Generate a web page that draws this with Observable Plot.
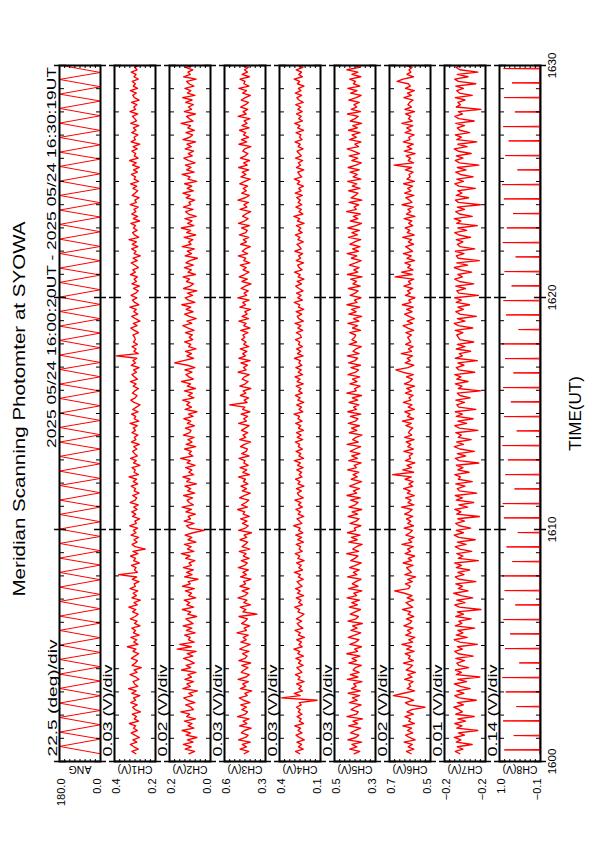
<!DOCTYPE html>
<html>
<head>
<meta charset="utf-8">
<script src="https://cdn.jsdelivr.net/npm/d3@7"></script>
<script src="https://cdn.jsdelivr.net/npm/@observablehq/plot@0.6"></script>
<style>
html,body{margin:0;padding:0;background:#fff;width:595px;height:842px;overflow:hidden;}
#land{position:absolute;left:0;top:0;width:842px;height:595px;transform-origin:0 0;transform:translate(0px,842px) rotate(-90deg);font-family:"Liberation Sans",Arial,sans-serif;background:#fff;}
#land svg{position:absolute;left:0;}
</style>
</head>
<body>
<div id="land"></div>
<script>
// ---------------- data ----------------
const titleText = "Meridian Scanning Photomter at SYOWA";
const headerText = "2025 05/24 16:00:20UT - 2025 05/24 16:30:19UT";
const channelNames = ["ANG","CH1(V)","CH2(V)","CH3(V)","CH4(V)","CH5(V)","CH6(V)","CH7(V)","CH8(V)"];
const divLabels = ["22.5 (deg)/div","0.03 (V)/div","0.02 (V)/div","0.03 (V)/div","0.03 (V)/div","0.03 (V)/div","0.02 (V)/div","0.01 (V)/div","0.14 (V)/div"];
const yDomains = [[0,180],[0.18,0.42],[0.02,0.18],[0.33,0.57],[0.13,0.37],[0.28,0.52],[0.52,0.68],[-0.24,-0.16],[-0.11,1.01]];
const timeTickLabels = ["1600","1610","1620","1630"];
const xAxisLabel = "TIME(UT)";

// scan angle turning points (seconds after 16:00:20, degrees)
const angT = [0,19,38,56,75,94,112,131,150,169,188,206,225,244,262,281,300,319,338,356,375,394,412,431,450,469,488,506,525,544,562,581,600,619,638,656,675,694,712,731,750,769,788,806,825,844,862,881,900,919,938,956,975,994,1012,1031,1050,1069,1088,1106,1125,1144,1162,1181,1200,1219,1238,1256,1275,1294,1312,1331,1350,1369,1388,1406,1425,1444,1462,1481,1500,1519,1538,1556,1575,1594,1612,1631,1650,1669,1688,1706,1725,1744,1762,1781,1799];
const angV = [0,180,0,180,0,180,0,180,0,180,0,180,0,180,0,180,0,180,0,180,0,180,0,180,0,180,0,180,0,180,0,180,0,180,0,180,0,180,0,180,0,180,0,180,0,180,0,180,0,180,0,180,0,180,0,180,0,180,0,180,0,180,0,180,0,180,0,180,0,180,0,180,0,180,0,180,0,180,0,180,0,180,0,180,0,180,0,180,0,180,0,180,0,180,0,180,0];

// channel samples (mV), evenly spaced from 16:00:20 to 16:30:19
const ch1_mV = [295,318,281,306,327,289,312,274,301,322,286,309,296,333,279,304,291,316,268,300,
314,287,325,296,308,272,319,293,338,284,302,311,277,296,329,288,305,263,317,298,
286,321,301,279,312,294,345,283,307,290,324,276,309,297,318,271,303,288,327,299,
282,314,295,336,287,306,269,318,292,311,284,329,298,305,277,316,290,395,286,303,
294,321,275,308,297,326,283,312,240,299,317,288,306,279,323,294,309,285,331,292,
301,273,315,296,319,287,307,281,328,299,290,314,276,305,297,322,284,310,291,335,
280,306,298,317,271,309,293,326,286,302,314,289,307,275,321,295,304,283,318,297,
310,287,329,278,305,296,320,282,313,292,270,306,324,299,288,315,301,279,311,294,
327,285,303,318,291,308,276,322,297,312,289,410,281,306,294,317,286,309,298,302,
312,279,304,325,288,310,271,297,319,284,307,293,330,277,302,315,289,323,296,281,
309,274,318,291,305,286,327,298,313,280,300,322,287,311,269,306,294,320,283,316,
292,335,278,303,314,288,309,297,324,273,310,285,319,295,306,281,328,292,301,276,
317,299,284,312,290,326,279,305,297,321,286,308,275,314,293,331,282,304,296,318,
287,311,272,323,298,306,283,319,294,309,278,325,291,302,315,284,329,297,307,289,
320,276,303,313,292,327,285,310,298,316,281,306,294,322,288,301,274,318,296,305];
const ch2_mV = [104,82,119,95,126,88,110,73,115,98,131,85,107,92,122,79,113,101,136,87,
96,117,81,109,124,90,105,71,128,99,112,86,120,94,108,77,133,97,115,83,
102,125,89,111,76,150,95,140,84,106,99,121,80,114,93,127,88,103,116,74,
109,97,130,86,112,101,123,78,105,94,118,83,129,99,107,69,121,92,113,87,
126,95,104,81,117,100,134,85,110,96,122,77,108,93,119,88,45,102,114,84,
123,98,107,79,116,94,131,87,103,111,90,125,82,109,97,120,75,113,100,128,
86,105,93,117,80,112,99,137,89,104,95,121,78,115,92,108,84,126,101,96,
118,83,110,97,124,88,106,73,119,94,113,101,129,85,107,91,122,79,111,98,
133,87,104,116,92,120,81,109,160,125,86,112,94,118,77,106,97,121,89,103,
91,118,84,107,128,93,112,76,103,121,88,115,97,132,81,106,119,90,110,73,
125,99,86,114,102,127,79,108,95,122,87,116,101,71,119,94,111,83,130,96,
105,89,123,78,113,98,134,85,109,92,120,76,106,117,88,126,97,104,82,115,
99,128,87,111,93,121,74,108,100,131,84,113,96,118,80,105,124,91,107,86,
119,95,112,78,127,101,90,116,83,109,98,135,88,103,114,79,122,94,106,87,
117,92,129,81,110,97,120,85,104,113,76,125,99,108,89,118,82,111,95,102];
const ch3_mV = [455,428,479,441,466,419,488,447,432,471,453,414,482,439,461,426,494,448,435,468,
442,475,421,459,483,437,451,411,477,446,463,430,490,444,425,472,456,433,469,417,
486,449,438,464,427,481,452,420,474,443,460,431,497,441,455,423,470,448,436,485,
380,462,445,478,418,457,439,491,450,433,467,424,480,446,458,415,476,442,463,430,
489,451,437,472,426,460,444,484,422,468,449,434,479,440,456,412,487,447,431,465,
438,476,425,461,452,493,436,470,445,428,482,455,419,466,441,474,433,459,447,488,
424,463,440,479,431,457,450,485,427,469,443,436,476,454,418,481,446,462,434,471,
449,426,487,442,458,435,473,421,464,451,540,438,455,429,477,445,461,416,480,448,
432,467,453,425,490,443,459,436,474,420,486,447,463,439,478,428,457,444,469,451,
462,433,475,421,458,444,486,429,467,438,451,418,480,447,463,426,492,440,455,431,
473,449,415,468,436,484,452,427,461,443,478,422,457,446,489,434,466,450,419,476,
441,459,428,483,445,437,470,424,488,453,432,464,447,417,479,439,456,430,491,448,
425,469,442,460,435,481,451,420,474,444,466,428,487,437,458,423,477,449,433,463,
452,416,485,440,471,429,459,446,482,426,468,438,455,421,490,443,461,434,476,447,
430,472,448,419,464,441,486,427,457,450,479,424,467,436,453,431,482,445,460,439];
const ch4_mV = [252,276,231,259,241,268,225,254,273,238,262,247,281,229,254,243,267,238,260,249,
271,243,255,150,357,249,284,235,257,242,270,226,261,250,277,239,253,268,232,259,
245,274,230,263,251,286,237,256,241,269,224,260,248,279,233,255,266,240,271,246,
227,262,252,281,236,258,244,272,229,265,249,276,238,254,267,231,260,247,283,235,
257,243,270,226,263,251,278,237,255,246,272,230,264,241,275,233,258,249,287,239,
253,268,228,261,247,274,236,259,244,280,231,256,265,242,271,227,262,250,276,238,
255,240,269,232,264,248,283,229,257,245,273,236,260,252,278,234,266,243,271,230,
259,246,275,238,262,253,285,233,256,241,270,228,263,249,277,237,258,244,272,231,
267,250,279,235,261,243,274,239,256,248,282,232,265,245,270,236,259,251,276,242,
248,271,234,262,245,279,230,257,266,240,273,228,259,251,284,236,263,244,270,232,
256,275,241,267,227,261,249,282,238,255,264,229,272,246,258,235,280,243,253,268,
231,262,250,277,237,259,245,271,226,265,252,286,233,256,242,274,239,261,248,269,
236,278,244,257,230,266,251,283,240,254,263,228,271,247,260,234,276,242,255,267,
232,261,249,279,238,253,245,273,229,264,250,281,235,258,243,270,237,262,246,275,
231,256,268,240,277,244,259,227,265,252,284,236,257,241,272,233,263,248,270,239];
const ch5_mV = [405,372,431,389,418,361,442,395,378,426,401,367,437,384,412,356,447,392,381,423,
398,364,433,387,415,374,440,369,421,393,408,359,445,383,427,376,411,398,363,436,
390,417,371,448,385,403,362,430,396,377,439,402,366,424,388,414,357,441,394,380,
428,399,368,434,386,419,373,446,391,407,360,438,382,416,395,365,443,389,410,375,
432,397,363,425,401,383,449,379,413,392,358,436,387,421,370,444,396,404,366,429,
393,376,440,385,417,361,435,399,382,426,369,447,390,409,374,431,398,362,422,387,
411,378,443,392,405,364,437,386,419,371,428,400,367,446,381,414,395,359,433,389,
420,374,439,397,383,427,366,442,391,408,377,435,384,416,362,448,393,402,370,430,
388,415,373,441,396,380,424,368,437,399,385,445,376,412,394,363,434,390,418,402,
396,431,368,415,385,442,377,409,361,436,393,420,372,447,388,404,365,428,399,381,
439,370,412,391,425,359,444,384,407,376,433,397,364,421,389,446,380,414,371,430,
402,367,438,386,418,374,441,394,362,427,383,410,369,449,392,405,378,435,360,423,
398,382,437,371,416,390,443,366,411,387,429,375,440,395,363,419,384,434,373,408,
446,379,401,365,432,392,417,370,438,386,413,361,427,399,381,444,368,422,390,406,
375,436,393,364,425,388,442,372,409,397,431,366,418,383,447,374,403,391,428,369];
const ch6_mV = [596,614,585,607,591,623,580,602,617,589,610,594,628,583,605,598,620,587,612,593,
542,603,618,586,609,665,625,582,611,597,604,588,621,592,608,579,615,600,590,626,
587,606,599,619,584,613,594,632,590,605,581,617,596,610,588,624,601,593,614,585,
608,597,629,589,603,616,586,611,592,622,660,606,599,618,591,609,578,620,595,604,
613,588,627,594,607,582,619,598,610,587,631,593,605,584,616,600,591,623,586,609,
597,614,589,621,602,592,633,585,608,596,617,583,611,599,625,590,604,588,619,595,
668,586,628,594,612,581,618,598,603,590,624,587,609,597,615,584,621,593,606,600,
589,616,595,630,586,610,599,620,583,607,592,626,597,604,588,618,594,613,582,622,
601,591,614,587,629,655,608,585,619,599,611,590,634,594,606,588,617,597,603,609,
594,616,586,608,627,590,611,583,604,621,592,613,587,630,596,605,581,618,599,610,
589,624,597,606,585,658,592,633,588,609,598,620,582,612,595,626,590,603,617,586,
607,594,629,584,611,600,619,589,605,593,623,581,614,597,608,587,631,592,602,616,
585,621,596,609,590,625,583,612,599,604,588,618,594,662,586,607,598,615,580,622,
593,611,587,626,600,605,584,619,596,613,589,632,591,606,597,617,582,620,594,608,
601,588,624,595,610,583,618,599,607,650,627,586,612,597,604,592,621,585,614,600];
const ch7_mV = [-190,-181,-196,-185,-214,-183,-192,-179,-199,-187,-225,-184,-194,-180,-201,-186,-218,-182,-195,-188,
-178,-197,-185,-222,-189,-180,-198,-184,-210,-191,-179,-203,-186,-229,-183,-193,-181,-207,-188,-184,
-199,-182,-216,-187,-180,-195,-185,-224,-190,-179,-204,-183,-196,-186,-219,-181,-194,-188,-212,-182,
-197,-185,-231,-189,-180,-200,-184,-215,-192,-178,-206,-187,-195,-182,-221,-188,-181,-198,-186,-209,
-183,-193,-180,-226,-187,-196,-184,-213,-190,-181,-202,-185,-220,-188,-179,-197,-183,-211,-189,-182,
-199,-186,-228,-184,-192,-180,-205,-188,-217,-183,-195,-181,-223,-189,-185,-200,-182,-214,-187,-191,
-180,-208,-186,-196,-183,-227,-188,-181,-201,-185,-218,-190,-179,-197,-184,-212,-187,-193,-182,-225,
-189,-180,-203,-186,-216,-183,-195,-181,-221,-188,-184,-199,-182,-210,-190,-185,-230,-187,-194,-181,
-206,-184,-192,-180,-219,-188,-183,-198,-186,-224,-181,-195,-189,-211,-183,-200,-185,-217,-190,-187,
-184,-196,-181,-215,-187,-179,-200,-185,-222,-190,-182,-197,-186,-209,-183,-193,-180,-226,-188,-184,
-201,-182,-217,-189,-180,-195,-186,-213,-191,-179,-205,-184,-228,-187,-183,-198,-181,-219,-190,-185,
-196,-183,-211,-188,-180,-203,-186,-224,-184,-192,-179,-214,-189,-182,-199,-185,-230,-187,-181,-207,
-183,-194,-186,-220,-188,-180,-197,-184,-216,-191,-182,-202,-185,-227,-189,-181,-196,-183,-212,-187,
-179,-204,-186,-223,-184,-193,-181,-209,-190,-185,-199,-182,-218,-188,-180,-195,-187,-231,-183,-191,
-186,-200,-181,-214,-189,-184,-197,-182,-221,-187,-180,-206,-185,-225,-190,-183,-194,-186,-210,-188];

// CH8: flat level with short pulses (seconds after 16:00:20, volts)
const ch8Level = -0.09;
const ch8PulseT = [10,47,85,122,160,197,235,272,310,347,385,422,460,497,535,572,610,647,685,722,760,797,835,872,910,947,985,1022,1060,1097,1135,1172,1210,1247,1285,1322,1360,1397,1435,1472,1510,1547,1585,1622,1660,1697,1735,1772];
const ch8PulseV = [0.88,0.62,0.91,0.55,0.84,0.93,0.47,0.86,0.72,0.90,0.58,0.87,0.94,0.66,0.82,0.51,0.89,0.92,0.60,0.85,0.78,0.93,0.54,0.88,0.70,0.91,0.63,0.86,0.95,0.49,0.83,0.90,0.68,0.87,0.57,0.92,0.81,0.64,0.89,0.94,0.52,0.85,0.76,0.91,0.59,0.88,0.67,0.90];

// ---------------- build ----------------
const T0 = Date.UTC(2025,4,24,16,0,20), T1 = Date.UTC(2025,4,24,16,30,19);
const X0 = new Date(Date.UTC(2025,4,24,16,0,0)), X1 = new Date(Date.UTC(2025,4,24,16,30,0));
function samples(vals, k) { const n = vals.length; return vals.map((v, i) => ({t: new Date(T0 + i * (T1 - T0) / (n - 1)), v: v * k})); }
const angData = angT.map((s, i) => ({t: new Date(T0 + s * 1000), v: angV[i]}));
const ch8Data = [{t: new Date(T0), v: ch8Level}];
ch8PulseT.forEach((s, i) => {
  ch8Data.push({t: new Date(T0 + (s - 1) * 1000), v: ch8Level});
  ch8Data.push({t: new Date(T0 + s * 1000), v: ch8PulseV[i]});
  ch8Data.push({t: new Date(T0 + (s + 1) * 1000), v: ch8Level});
});
ch8Data.push({t: new Date(T1), v: ch8Level});
const panels = [angData, samples(ch1_mV, 0.001), samples(ch2_mV, 0.001), samples(ch3_mV, 0.001), samples(ch4_mV, 0.001), samples(ch5_mV, 0.001), samples(ch6_mV, 0.001), samples(ch7_mV, 0.001), ch8Data];

const land = document.getElementById("land");
const FONT = '"Liberation Sans", Arial, sans-serif';
const minuteTicks = d3.utcMinute.range(X0, new Date(+X1 + 1));
const majorTicks = d3.utcMinute.every(10).range(X0, new Date(+X1 + 1));
const stretch = {"22.5 (deg)/div": 117, "0.03 (V)/div": 92, "0.02 (V)/div": 92, "0.01 (V)/div": 92, "0.14 (V)/div": 92};

panels.forEach((data, i) => {
  const [lo, hi] = yDomains[i];
  const divTicks = d3.range(1, 8).map(k => lo + k * (hi - lo) / 8);
  const last = i === panels.length - 1;
  const mT = 15, mB = last ? 60 : 0;
  const marks = [
    Plot.line(data, {x: "t", y: "v", stroke: "#ff0000", strokeWidth: i === 0 || last ? 1 : 1.35, clip: true}),
    Plot.axisX({anchor: "bottom", ticks: minuteTicks, tickSize: -4, tickFormat: () => "", label: null}),
    Plot.axisX({anchor: "top", ticks: minuteTicks, tickSize: -4, tickFormat: () => "", label: null}),
    Plot.axisX({anchor: "bottom", ticks: majorTicks, tickSize: 6, tickFormat: () => "", label: null, strokeWidth: 1.5}),
    Plot.axisX({anchor: "bottom", ticks: majorTicks, tickSize: -6, tickFormat: () => "", label: null, strokeWidth: 1.5}),
    Plot.axisX({anchor: "top", ticks: majorTicks, tickSize: 6, tickFormat: () => "", label: null, strokeWidth: 1.5}),
    Plot.axisX({anchor: "top", ticks: majorTicks, tickSize: -6, tickFormat: () => "", label: null, strokeWidth: 1.5}),
    Plot.axisY({anchor: "left", ticks: divTicks, tickSize: -3, tickFormat: () => "", label: null}),
    Plot.axisY({anchor: "right", ticks: divTicks, tickSize: -3, tickFormat: () => "", label: null}),
    Plot.axisY({anchor: "left", ticks: [hi], tickSize: 0, tickPadding: 17, dy: 2, fontSize: 11, tickFormat: ".1f", label: null}),
    Plot.axisY({anchor: "left", ticks: [lo], tickSize: 0, tickPadding: 17, dy: -3, fontSize: 11, tickFormat: ".1f", label: null}),
    Plot.text([channelNames[i]], {text: d => d, frameAnchor: "left", rotate: -90, dx: -8, textAnchor: "middle", lineAnchor: "middle", fontSize: 10.5}),
    Plot.text([divLabels[i]], {text: d => d, frameAnchor: "top-left", dx: 5, dy: -3, lineAnchor: "bottom", textAnchor: "start", fontSize: 12.5}),
    Plot.frame({stroke: "black", strokeWidth: 2})
  ];
  if (last) {
    marks.push(Plot.axisX({anchor: "bottom", ticks: majorTicks, tickSize: 0, tickPadding: 7, fontSize: 11.5, tickFormat: d => timeTickLabels[majorTicks.findIndex(m => +m === +d)], label: null}));
    marks.push(Plot.text([xAxisLabel], {text: d => d, frameAnchor: "bottom", dy: 40, lineAnchor: "bottom", fontSize: 17}));
  }
  const svg = Plot.plot({
    width: 842, height: mT + 41 + mB,
    marginLeft: 80, marginRight: 66, marginTop: mT, marginBottom: mB,
    style: {background: "transparent", overflow: "visible", fontFamily: FONT, color: "black"},
    x: {type: "utc", domain: [X0, X1]},
    y: {domain: [lo, hi]},
    marks
  });
  svg.style.top = (59 - mT + 55 * i) + "px";
  d3.select(svg).selectAll("text").each(function() {
    const L = stretch[this.textContent];
    if (L) d3.select(this).attr("textLength", L).attr("lengthAdjust", "spacingAndGlyphs");
  });
  land.appendChild(svg);
});

// title + header
const ov = d3.select(land).append("svg").attr("width", 842).attr("height", 60).style("top", "0px").style("font-family", FONT);
ov.append("text").attr("x", 433).attr("y", 25).attr("text-anchor", "middle").attr("font-size", 17)
  .attr("textLength", 375).attr("lengthAdjust", "spacingAndGlyphs").text(titleText);
ov.append("text").attr("x", 775).attr("y", 56).attr("text-anchor", "end").attr("font-size", 13.5)
  .attr("textLength", 381).attr("lengthAdjust", "spacingAndGlyphs").text(headerText);
</script>
</body>
</html>
